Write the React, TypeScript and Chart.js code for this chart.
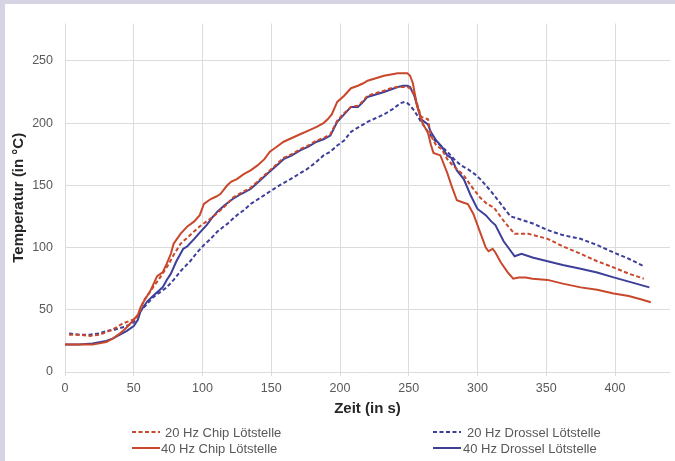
import React, { useEffect, useRef } from "react";
import { Chart, registerables } from "chart.js";

Chart.register(...registerables);

// Measured temperature curves: time in s, temperature in °C
const chip20Time = [3, 10, 18, 25, 30, 36, 42, 47, 52, 55, 57, 61, 64, 68, 71, 75, 79, 84, 89, 94, 98, 103, 108, 113, 118, 122, 128, 135, 140, 145, 149, 154, 159, 165, 171, 177, 183, 188, 193, 198, 203, 208, 213, 216, 220, 226, 232, 237, 242, 246, 249, 251, 254, 259, 264, 266, 270, 274, 278, 282, 285, 290, 295, 302, 307, 312, 320, 327, 332, 337, 344, 351, 362, 375, 387, 399, 410, 421];
const chip20Temp = [30, 30, 29, 30, 32, 35, 39, 41, 43, 50, 57, 63, 68, 74, 79, 86, 94, 103, 108, 113, 117, 121, 125, 130, 135, 140, 144, 148, 153, 158, 162, 167, 172, 175, 179, 182, 186, 188, 191, 202, 208, 213, 214, 217, 222, 224, 226, 228, 229, 229, 229, 228, 223, 205, 203, 190, 182, 179, 171, 166, 163, 158, 150, 140, 135, 132, 120, 111, 111, 111, 109, 107, 101, 95, 89, 84, 79, 75];

const chip40Time = [0, 10, 20, 25, 30, 35, 40, 45, 50, 53, 55, 58, 62, 67, 71, 74, 77, 79, 84, 89, 94, 98, 101, 106, 110, 113, 118, 121, 125, 130, 135, 140, 145, 149, 154, 159, 165, 171, 177, 183, 188, 191, 194, 198, 203, 208, 213, 217, 220, 226, 232, 237, 242, 246, 249, 251, 253, 256, 260, 264, 266, 268, 273, 278, 281, 285, 290, 293, 297, 302, 306, 308, 311, 313, 317, 322, 326, 330, 335, 340, 351, 362, 375, 387, 399, 410, 420, 426];
const chip40Temp = [22, 22, 22, 23, 24, 27, 31, 36, 42, 46, 52, 58, 65, 77, 80, 87, 95, 103, 111, 117, 121, 126, 135, 139, 141, 143, 150, 153, 155, 159, 162, 166, 171, 177, 181, 185, 188, 191, 194, 197, 200, 203, 207, 217, 222, 228, 230, 232, 234, 236, 238, 239, 240, 240, 240, 238, 232, 214, 200, 192, 183, 176, 174, 160, 150, 138, 136, 135, 127, 112, 100, 97, 99, 96, 88, 80, 75, 76, 76, 75, 74, 71, 68, 66, 63, 61, 58, 56];

const drossel20Time = [3, 10, 18, 25, 30, 36, 42, 47, 50, 53, 55, 60, 64, 69, 74, 79, 84, 91, 96, 101, 106, 111, 118, 125, 130, 135, 142, 149, 156, 164, 170, 176, 182, 188, 193, 198, 203, 208, 214, 220, 226, 232, 238, 244, 247, 249, 251, 254, 259, 264, 268, 273, 278, 283, 288, 293, 298, 302, 306, 310, 317, 324, 333, 341, 351, 362, 375, 387, 399, 410, 421];
const drossel20Temp = [31, 30, 30, 31, 33, 34, 36, 38, 40, 45, 49, 55, 60, 64, 68, 74, 81, 89, 96, 102, 107, 113, 119, 126, 130, 135, 140, 145, 150, 155, 159, 163, 168, 174, 177, 182, 186, 193, 197, 201, 204, 207, 211, 216, 217, 216, 214, 210, 201, 193, 187, 182, 177, 171, 166, 163, 159, 155, 150, 145, 135, 125, 122, 119, 114, 110, 107, 102, 96, 91, 85];

const drossel40Time = [0, 10, 20, 25, 30, 35, 40, 45, 50, 53, 55, 60, 64, 67, 71, 74, 77, 81, 86, 89, 94, 98, 103, 107, 111, 116, 122, 128, 135, 140, 145, 149, 154, 159, 165, 171, 177, 183, 188, 193, 198, 203, 208, 213, 216, 220, 226, 232, 237, 242, 246, 249, 251, 254, 259, 264, 266, 270, 274, 278, 281, 285, 290, 295, 300, 306, 310, 313, 319, 323, 327, 332, 340, 351, 362, 375, 387, 399, 412, 425];
const drossel40Temp = [22, 22, 23, 24, 25, 27, 30, 33, 37, 42, 49, 57, 61, 64, 68, 74, 79, 89, 99, 101, 107, 112, 118, 124, 129, 134, 139, 143, 147, 152, 157, 161, 166, 171, 174, 178, 181, 185, 187, 190, 201, 207, 213, 213, 216, 221, 223, 225, 227, 229, 230, 230, 229, 222, 203, 199, 193, 186, 181, 174, 172, 162, 155, 142, 131, 126, 121, 118, 105, 99, 93, 95, 92, 89, 86, 83, 80, 76, 72, 68];

const seriesLabels = [
  "20 Hz Chip Lötstelle",
  "40 Hz Chip Lötstelle",
  "20 Hz Drossel Lötstelle",
  "40 Hz Drossel Lötstelle",
];

const xTickValues = [0, 50, 100, 150, 200, 250, 300, 350, 400];
const yTickValues = [0, 50, 100, 150, 200, 250];

const RED = "#c9472b";
const BLUE = "#3d3f99";
const DASH = [4, 2.5];
const FONT = "'Liberation Sans', Arial, sans-serif";

const toPoints = (t: number[], v: number[]) => t.map((x, i) => ({ x, y: v[i] }));

// Legend placement: column x of the line start, row y (canvas px)
const legendSlots = [
  { lineX: 127, textX: 160, y: 428 },
  { lineX: 127, textX: 156, y: 444 },
  { lineX: 428, textX: 462, y: 428 },
  { lineX: 428, textX: 458, y: 444 },
];

const legendPlugin = {
  id: "twoColumnLegend",
  afterDraw(chart: any) {
    const ctx = chart.ctx as CanvasRenderingContext2D;
    chart.data.datasets.forEach((ds: any, i: number) => {
      const slot = legendSlots[i];
      ctx.save();
      ctx.strokeStyle = ds.borderColor;
      ctx.lineWidth = 2;
      ctx.setLineDash(ds.borderDash || []);
      ctx.beginPath();
      ctx.moveTo(slot.lineX, slot.y);
      ctx.lineTo(slot.lineX + 28, slot.y);
      ctx.stroke();
      ctx.setLineDash([]);
      ctx.fillStyle = "#595959";
      ctx.font = `13px ${FONT}`;
      ctx.textBaseline = "middle";
      ctx.textAlign = "left";
      ctx.fillText(ds.label, slot.textX, slot.y + 1);
      ctx.restore();
    });
  },
};

export default function App() {
  const canvasRef = useRef<HTMLCanvasElement | null>(null);

  useEffect(() => {
    if (!canvasRef.current) return;
    const chart = new Chart(canvasRef.current, {
      type: "line",
      data: {
        datasets: [
          {
            label: seriesLabels[0],
            data: toPoints(chip20Time, chip20Temp),
            borderColor: RED,
            borderDash: DASH,
          },
          {
            label: seriesLabels[1],
            data: toPoints(chip40Time, chip40Temp),
            borderColor: RED,
          },
          {
            label: seriesLabels[2],
            data: toPoints(drossel20Time, drossel20Temp),
            borderColor: BLUE,
            borderDash: DASH,
          },
          {
            label: seriesLabels[3],
            data: toPoints(drossel40Time, drossel40Temp),
            borderColor: BLUE,
          },
        ],
      },
      options: {
        responsive: false,
        animation: false,
        layout: { padding: { left: 0, right: 5, top: 16, bottom: 43 } },
        elements: {
          point: { radius: 0 },
          line: { borderWidth: 2, tension: 0, fill: false },
        },
        plugins: {
          legend: { display: false },
          tooltip: { enabled: false },
        },
        scales: {
          x: {
            type: "linear",
            min: 0,
            max: 440,
            afterBuildTicks: (axis: any) => {
              axis.ticks = xTickValues.map((value) => ({ value }));
            },
            afterFit: (scale: any) => {
              scale.height = 46;
            },
            grid: { color: "#dcdcdc", lineWidth: 1, tickLength: 4, drawTicks: true },
            border: { display: false },
            ticks: {
              color: "#595959",
              padding: 5,
              maxRotation: 0,
              font: { family: FONT, size: 12.5 },
            },
            title: {
              display: true,
              text: "Zeit (in s)",
              color: "#262626",
              padding: 0,
              font: { family: FONT, size: 15, weight: "bold" },
            },
          },
          y: {
            type: "linear",
            min: 0,
            max: 280,
            afterBuildTicks: (axis: any) => {
              axis.ticks = yTickValues.map((value) => ({ value }));
            },
            afterFit: (scale: any) => {
              scale.width = 60;
            },
            grid: { color: "#dcdcdc", lineWidth: 1, drawTicks: false },
            border: { display: false },
            ticks: {
              color: "#595959",
              padding: 12,
              font: { family: FONT, size: 12.5 },
            },
            title: {
              display: true,
              text: "Temperatur (in °C)",
              color: "#262626",
              padding: { top: 5, bottom: 0 },
              font: { family: FONT, size: 15, weight: "bold" },
            },
          },
        },
      },
      plugins: [legendPlugin],
    } as any);
    return () => chart.destroy();
  }, []);

  return (
    <div
      style={{
        position: "fixed",
        left: 0,
        top: 0,
        width: 675,
        height: 461,
        background: "#d6d4e3",
        overflow: "hidden",
      }}
    >
      <div
        style={{
          position: "absolute",
          left: 5,
          top: 4,
          width: 670,
          height: 457,
          background: "#ffffff",
        }}
      >
        <canvas ref={canvasRef} width={670} height={457} style={{ display: "block" }} />
      </div>
    </div>
  );
}
